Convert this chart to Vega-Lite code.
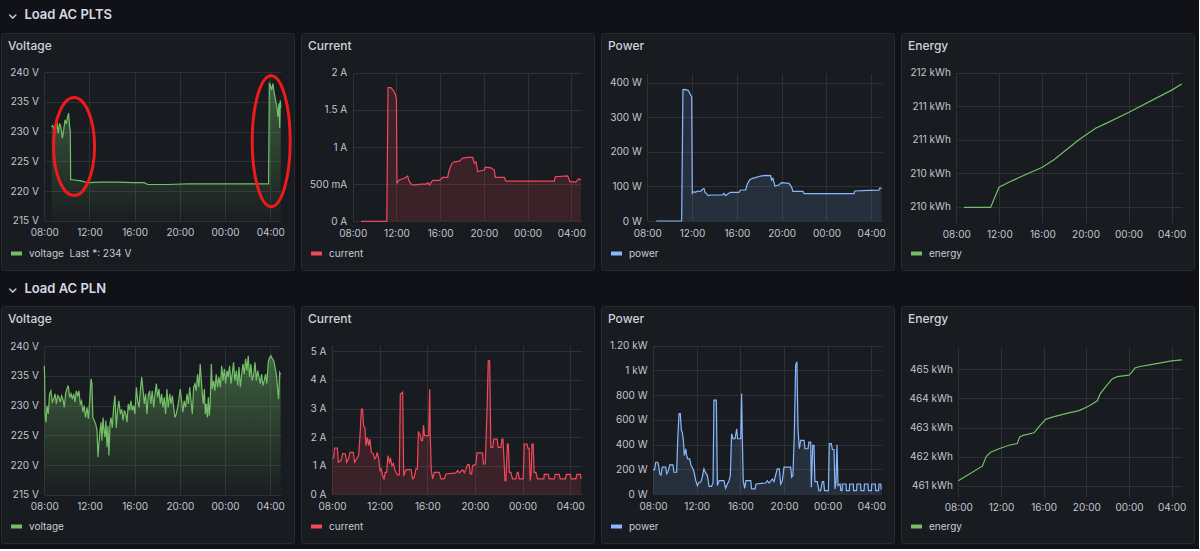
{
  "$schema": "https://vega.github.io/schema/vega-lite/v6.json",
  "background": "#111217",
  "padding": {"left": 0, "top": 8, "right": 4, "bottom": 5},
  "spacing": 11,
  "resolve": {"scale": {"color": "independent", "shape": "independent"}, "legend": {"color": "independent"}},
  "datasets": {
    "pltsVoltage": [
      {"t": "2024-03-11T08:39", "v": 230.8}, {"t": "2024-03-11T08:44", "v": 231.0}, {"t": "2024-03-11T08:57", "v": 230.0},
      {"t": "2024-03-11T09:07", "v": 231.7}, {"t": "2024-03-11T09:14", "v": 229.7}, {"t": "2024-03-11T09:21", "v": 231.4},
      {"t": "2024-03-11T09:28", "v": 230.8}, {"t": "2024-03-11T09:36", "v": 228.9}, {"t": "2024-03-11T09:43", "v": 230.3},
      {"t": "2024-03-11T09:50", "v": 232.0}, {"t": "2024-03-11T09:57", "v": 231.3}, {"t": "2024-03-11T10:04", "v": 232.5},
      {"t": "2024-03-11T10:09", "v": 233.1}, {"t": "2024-03-11T10:15", "v": 230.6}, {"t": "2024-03-11T10:18", "v": 230.3},
      {"t": "2024-03-11T10:20", "v": 221.9}, {"t": "2024-03-11T10:30", "v": 221.9}, {"t": "2024-03-11T11:15", "v": 221.7},
      {"t": "2024-03-11T11:50", "v": 221.4}, {"t": "2024-03-11T13:01", "v": 221.5}, {"t": "2024-03-11T14:29", "v": 221.5},
      {"t": "2024-03-11T15:58", "v": 221.4}, {"t": "2024-03-11T16:51", "v": 221.4}, {"t": "2024-03-11T17:09", "v": 221.1},
      {"t": "2024-03-11T18:55", "v": 221.1}, {"t": "2024-03-11T20:41", "v": 221.2}, {"t": "2024-03-11T22:27", "v": 221.2},
      {"t": "2024-03-12T00:13", "v": 221.2}, {"t": "2024-03-12T02:00", "v": 221.2}, {"t": "2024-03-12T03:46", "v": 221.2},
      {"t": "2024-03-12T03:51", "v": 221.2}, {"t": "2024-03-12T03:55", "v": 238.1}, {"t": "2024-03-12T04:00", "v": 237.9},
      {"t": "2024-03-12T04:07", "v": 237.0}, {"t": "2024-03-12T04:14", "v": 238.1}, {"t": "2024-03-12T04:21", "v": 236.5},
      {"t": "2024-03-12T04:28", "v": 235.3}, {"t": "2024-03-12T04:35", "v": 234.2}, {"t": "2024-03-12T04:41", "v": 232.5},
      {"t": "2024-03-12T04:46", "v": 234.8}, {"t": "2024-03-12T04:50", "v": 230.6}, {"t": "2024-03-12T04:53", "v": 235.3},
      {"t": "2024-03-12T04:56", "v": 234.0}
    ],
    "pltsNotes": [
      {"t": "2024-03-11T10:38", "v": 227.5, "id": "drop"},
      {"t": "2024-03-12T04:05", "v": 228.4, "id": "return"}
    ],
    "pltsCurrent": [
      {"t": "2024-03-11T08:46", "v": 0}, {"t": "2024-03-11T11:07", "v": 0}, {"t": "2024-03-11T11:14", "v": 1.80},
      {"t": "2024-03-11T11:30", "v": 1.80}, {"t": "2024-03-11T11:43", "v": 1.76}, {"t": "2024-03-11T11:54", "v": 1.71},
      {"t": "2024-03-11T12:00", "v": 1.65}, {"t": "2024-03-11T12:03", "v": 0.51}, {"t": "2024-03-11T12:07", "v": 0.53},
      {"t": "2024-03-11T12:16", "v": 0.555}, {"t": "2024-03-11T12:31", "v": 0.57}, {"t": "2024-03-11T12:44", "v": 0.58},
      {"t": "2024-03-11T12:56", "v": 0.60}, {"t": "2024-03-11T13:02", "v": 0.61}, {"t": "2024-03-11T13:07", "v": 0.556},
      {"t": "2024-03-11T13:15", "v": 0.52}, {"t": "2024-03-11T13:26", "v": 0.49}, {"t": "2024-03-11T13:48", "v": 0.49},
      {"t": "2024-03-11T14:15", "v": 0.50}, {"t": "2024-03-11T14:43", "v": 0.50}, {"t": "2024-03-11T14:52", "v": 0.52},
      {"t": "2024-03-11T15:01", "v": 0.49}, {"t": "2024-03-11T15:19", "v": 0.55}, {"t": "2024-03-11T15:56", "v": 0.55},
      {"t": "2024-03-11T16:14", "v": 0.59}, {"t": "2024-03-11T16:41", "v": 0.59}, {"t": "2024-03-11T16:50", "v": 0.69},
      {"t": "2024-03-11T17:05", "v": 0.78}, {"t": "2024-03-11T17:18", "v": 0.80}, {"t": "2024-03-11T17:45", "v": 0.81},
      {"t": "2024-03-11T18:04", "v": 0.85}, {"t": "2024-03-11T18:31", "v": 0.86}, {"t": "2024-03-11T18:59", "v": 0.86},
      {"t": "2024-03-11T19:08", "v": 0.78}, {"t": "2024-03-11T19:17", "v": 0.80}, {"t": "2024-03-11T19:26", "v": 0.67},
      {"t": "2024-03-11T19:44", "v": 0.68}, {"t": "2024-03-11T20:02", "v": 0.69}, {"t": "2024-03-11T20:08", "v": 0.73},
      {"t": "2024-03-11T20:39", "v": 0.72}, {"t": "2024-03-11T20:57", "v": 0.69}, {"t": "2024-03-11T21:03", "v": 0.59},
      {"t": "2024-03-11T21:52", "v": 0.59}, {"t": "2024-03-11T22:01", "v": 0.54}, {"t": "2024-03-12T00:09", "v": 0.54},
      {"t": "2024-03-12T02:27", "v": 0.54}, {"t": "2024-03-12T02:32", "v": 0.60}, {"t": "2024-03-12T03:40", "v": 0.61},
      {"t": "2024-03-12T03:53", "v": 0.53}, {"t": "2024-03-12T04:26", "v": 0.53}, {"t": "2024-03-12T04:40", "v": 0.57},
      {"t": "2024-03-12T04:53", "v": 0.56}
    ],
    "pltsPower": [
      {"t": "2024-03-11T08:48", "v": 0}, {"t": "2024-03-11T11:04", "v": 0}, {"t": "2024-03-11T11:11", "v": 379.8},
      {"t": "2024-03-11T11:22", "v": 380.7}, {"t": "2024-03-11T11:40", "v": 377}, {"t": "2024-03-11T11:52", "v": 364},
      {"t": "2024-03-11T11:58", "v": 359.5}, {"t": "2024-03-11T12:01", "v": 80}, {"t": "2024-03-11T12:10", "v": 84.8},
      {"t": "2024-03-11T12:19", "v": 82.9}, {"t": "2024-03-11T12:28", "v": 86.7}, {"t": "2024-03-11T12:46", "v": 85.8},
      {"t": "2024-03-11T12:55", "v": 91.6}, {"t": "2024-03-11T13:04", "v": 93.5}, {"t": "2024-03-11T13:09", "v": 82.9},
      {"t": "2024-03-11T13:16", "v": 80}, {"t": "2024-03-11T13:27", "v": 73.3}, {"t": "2024-03-11T13:39", "v": 75.2},
      {"t": "2024-03-11T14:06", "v": 75.2}, {"t": "2024-03-11T14:42", "v": 75.2}, {"t": "2024-03-11T14:51", "v": 80},
      {"t": "2024-03-11T14:59", "v": 73.3}, {"t": "2024-03-11T15:17", "v": 80}, {"t": "2024-03-11T15:26", "v": 82.9},
      {"t": "2024-03-11T16:11", "v": 82.9}, {"t": "2024-03-11T16:20", "v": 89.6}, {"t": "2024-03-11T16:47", "v": 89.6},
      {"t": "2024-03-11T16:56", "v": 107}, {"t": "2024-03-11T17:08", "v": 118.5}, {"t": "2024-03-11T17:23", "v": 123.4},
      {"t": "2024-03-11T17:40", "v": 125.3}, {"t": "2024-03-11T18:07", "v": 130}, {"t": "2024-03-11T18:34", "v": 132},
      {"t": "2024-03-11T19:01", "v": 131}, {"t": "2024-03-11T19:06", "v": 118.5}, {"t": "2024-03-11T19:13", "v": 123.4},
      {"t": "2024-03-11T19:24", "v": 101}, {"t": "2024-03-11T19:45", "v": 104}, {"t": "2024-03-11T19:59", "v": 111},
      {"t": "2024-03-11T20:39", "v": 109}, {"t": "2024-03-11T20:53", "v": 99}, {"t": "2024-03-11T21:00", "v": 85.8},
      {"t": "2024-03-11T21:54", "v": 85.8}, {"t": "2024-03-11T22:01", "v": 79}, {"t": "2024-03-12T00:31", "v": 79},
      {"t": "2024-03-12T02:27", "v": 79}, {"t": "2024-03-12T02:32", "v": 86.7}, {"t": "2024-03-12T03:47", "v": 88.7},
      {"t": "2024-03-12T04:41", "v": 89}, {"t": "2024-03-12T04:46", "v": 95.4}, {"t": "2024-03-12T04:55", "v": 93.5}
    ],
    "pltsEnergy": [
      {"t": "2024-03-11T08:43", "v": 209.99}, {"t": "2024-03-11T11:11", "v": 209.99}, {"t": "2024-03-11T11:58", "v": 210.29},
      {"t": "2024-03-11T13:12", "v": 210.39}, {"t": "2024-03-11T15:59", "v": 210.59}, {"t": "2024-03-11T17:04", "v": 210.70},
      {"t": "2024-03-11T19:23", "v": 211.0}, {"t": "2024-03-11T20:56", "v": 211.17}, {"t": "2024-03-11T21:52", "v": 211.24},
      {"t": "2024-03-12T00:02", "v": 211.41}, {"t": "2024-03-12T04:00", "v": 211.74}, {"t": "2024-03-12T04:56", "v": 211.83}
    ],
    "plnVoltage": [
      {"t": "2024-03-11T08:00", "v": 236.7}, {"t": "2024-03-11T08:02", "v": 234.5}, {"t": "2024-03-11T08:04", "v": 228.6},
      {"t": "2024-03-11T08:09", "v": 227.2}, {"t": "2024-03-11T08:14", "v": 230.0}, {"t": "2024-03-11T08:21", "v": 228.6},
      {"t": "2024-03-11T08:28", "v": 232.0}, {"t": "2024-03-11T08:35", "v": 232.5}, {"t": "2024-03-11T08:42", "v": 230.6},
      {"t": "2024-03-11T08:50", "v": 231.1}, {"t": "2024-03-11T08:57", "v": 232.0}, {"t": "2024-03-11T09:04", "v": 230.3},
      {"t": "2024-03-11T09:11", "v": 231.7}, {"t": "2024-03-11T09:18", "v": 231.4}, {"t": "2024-03-11T09:25", "v": 230.6},
      {"t": "2024-03-11T09:32", "v": 231.7}, {"t": "2024-03-11T09:39", "v": 231.1}, {"t": "2024-03-11T09:46", "v": 229.7},
      {"t": "2024-03-11T09:53", "v": 232.0}, {"t": "2024-03-11T10:00", "v": 232.8}, {"t": "2024-03-11T10:07", "v": 233.4},
      {"t": "2024-03-11T10:15", "v": 231.4}, {"t": "2024-03-11T10:22", "v": 232.0}, {"t": "2024-03-11T10:29", "v": 231.1},
      {"t": "2024-03-11T10:36", "v": 232.0}, {"t": "2024-03-11T10:43", "v": 230.6}, {"t": "2024-03-11T10:50", "v": 232.5},
      {"t": "2024-03-11T10:57", "v": 231.7}, {"t": "2024-03-11T11:04", "v": 232.5}, {"t": "2024-03-11T11:11", "v": 230.3},
      {"t": "2024-03-11T11:18", "v": 230.8}, {"t": "2024-03-11T11:25", "v": 228.9}, {"t": "2024-03-11T11:32", "v": 230.0},
      {"t": "2024-03-11T11:39", "v": 228.0}, {"t": "2024-03-11T11:47", "v": 229.7}, {"t": "2024-03-11T11:54", "v": 227.8},
      {"t": "2024-03-11T12:01", "v": 230.8}, {"t": "2024-03-11T12:08", "v": 234.5}, {"t": "2024-03-11T12:13", "v": 233.7},
      {"t": "2024-03-11T12:18", "v": 228.0}, {"t": "2024-03-11T12:25", "v": 227.5}, {"t": "2024-03-11T12:33", "v": 226.9},
      {"t": "2024-03-11T12:40", "v": 225.8}, {"t": "2024-03-11T12:45", "v": 221.3}, {"t": "2024-03-11T12:50", "v": 223.5},
      {"t": "2024-03-11T12:56", "v": 225.8}, {"t": "2024-03-11T13:01", "v": 227.2}, {"t": "2024-03-11T13:06", "v": 224.1},
      {"t": "2024-03-11T13:12", "v": 228.0}, {"t": "2024-03-11T13:17", "v": 225.8}, {"t": "2024-03-11T13:22", "v": 224.7},
      {"t": "2024-03-11T13:27", "v": 227.5}, {"t": "2024-03-11T13:33", "v": 223.0}, {"t": "2024-03-11T13:38", "v": 226.6},
      {"t": "2024-03-11T13:43", "v": 221.6}, {"t": "2024-03-11T13:49", "v": 226.9}, {"t": "2024-03-11T13:54", "v": 228.0},
      {"t": "2024-03-11T14:01", "v": 226.3}, {"t": "2024-03-11T14:08", "v": 229.7}, {"t": "2024-03-11T14:15", "v": 231.7},
      {"t": "2024-03-11T14:22", "v": 226.3}, {"t": "2024-03-11T14:29", "v": 229.2}, {"t": "2024-03-11T14:36", "v": 230.8},
      {"t": "2024-03-11T14:44", "v": 228.6}, {"t": "2024-03-11T14:51", "v": 229.4}, {"t": "2024-03-11T14:58", "v": 227.5},
      {"t": "2024-03-11T15:05", "v": 229.2}, {"t": "2024-03-11T15:12", "v": 228.6}, {"t": "2024-03-11T15:19", "v": 227.2},
      {"t": "2024-03-11T15:26", "v": 230.3}, {"t": "2024-03-11T15:33", "v": 229.2}, {"t": "2024-03-11T15:40", "v": 230.8},
      {"t": "2024-03-11T15:47", "v": 229.2}, {"t": "2024-03-11T15:54", "v": 230.0}, {"t": "2024-03-11T16:01", "v": 228.6},
      {"t": "2024-03-11T16:09", "v": 233.1}, {"t": "2024-03-11T16:16", "v": 230.8}, {"t": "2024-03-11T16:23", "v": 229.7},
      {"t": "2024-03-11T16:30", "v": 232.5}, {"t": "2024-03-11T16:37", "v": 234.8}, {"t": "2024-03-11T16:44", "v": 232.8},
      {"t": "2024-03-11T16:51", "v": 230.3}, {"t": "2024-03-11T16:58", "v": 232.0}, {"t": "2024-03-11T17:05", "v": 228.6},
      {"t": "2024-03-11T17:12", "v": 231.7}, {"t": "2024-03-11T17:19", "v": 232.5}, {"t": "2024-03-11T17:26", "v": 230.3},
      {"t": "2024-03-11T17:33", "v": 232.5}, {"t": "2024-03-11T17:41", "v": 229.7}, {"t": "2024-03-11T17:48", "v": 232.0},
      {"t": "2024-03-11T17:55", "v": 233.7}, {"t": "2024-03-11T18:02", "v": 231.4}, {"t": "2024-03-11T18:09", "v": 232.8},
      {"t": "2024-03-11T18:16", "v": 230.3}, {"t": "2024-03-11T18:23", "v": 232.0}, {"t": "2024-03-11T18:30", "v": 229.7},
      {"t": "2024-03-11T18:37", "v": 231.4}, {"t": "2024-03-11T18:44", "v": 228.6}, {"t": "2024-03-11T18:51", "v": 232.8},
      {"t": "2024-03-11T18:58", "v": 229.7}, {"t": "2024-03-11T19:06", "v": 232.0}, {"t": "2024-03-11T19:13", "v": 230.3},
      {"t": "2024-03-11T19:20", "v": 231.7}, {"t": "2024-03-11T19:27", "v": 229.7}, {"t": "2024-03-11T19:34", "v": 228.0},
      {"t": "2024-03-11T19:41", "v": 228.6}, {"t": "2024-03-11T19:48", "v": 229.7}, {"t": "2024-03-11T19:55", "v": 231.1},
      {"t": "2024-03-11T20:02", "v": 232.8}, {"t": "2024-03-11T20:09", "v": 230.8}, {"t": "2024-03-11T20:16", "v": 228.9},
      {"t": "2024-03-11T20:23", "v": 230.8}, {"t": "2024-03-11T20:30", "v": 229.7}, {"t": "2024-03-11T20:38", "v": 232.0},
      {"t": "2024-03-11T20:45", "v": 230.3}, {"t": "2024-03-11T20:52", "v": 233.1}, {"t": "2024-03-11T20:59", "v": 230.8},
      {"t": "2024-03-11T21:06", "v": 228.6}, {"t": "2024-03-11T21:13", "v": 233.1}, {"t": "2024-03-11T21:20", "v": 233.7},
      {"t": "2024-03-11T21:27", "v": 232.5}, {"t": "2024-03-11T21:34", "v": 235.3}, {"t": "2024-03-11T21:41", "v": 233.1},
      {"t": "2024-03-11T21:48", "v": 237.0}, {"t": "2024-03-11T21:54", "v": 234.2}, {"t": "2024-03-11T21:59", "v": 232.0},
      {"t": "2024-03-11T22:04", "v": 230.3}, {"t": "2024-03-11T22:10", "v": 232.8}, {"t": "2024-03-11T22:15", "v": 228.6},
      {"t": "2024-03-11T22:20", "v": 230.3}, {"t": "2024-03-11T22:26", "v": 228.0}, {"t": "2024-03-11T22:31", "v": 231.4},
      {"t": "2024-03-11T22:36", "v": 228.3}, {"t": "2024-03-11T22:41", "v": 230.3}, {"t": "2024-03-11T22:47", "v": 237.0},
      {"t": "2024-03-11T22:52", "v": 232.8}, {"t": "2024-03-11T22:59", "v": 234.2}, {"t": "2024-03-11T23:06", "v": 232.5},
      {"t": "2024-03-11T23:13", "v": 235.3}, {"t": "2024-03-11T23:20", "v": 233.1}, {"t": "2024-03-11T23:27", "v": 234.8},
      {"t": "2024-03-11T23:35", "v": 233.1}, {"t": "2024-03-11T23:42", "v": 236.7}, {"t": "2024-03-11T23:49", "v": 234.2},
      {"t": "2024-03-11T23:56", "v": 236.2}, {"t": "2024-03-12T00:03", "v": 233.7}, {"t": "2024-03-12T00:10", "v": 235.9},
      {"t": "2024-03-12T00:17", "v": 234.8}, {"t": "2024-03-12T00:24", "v": 236.7}, {"t": "2024-03-12T00:31", "v": 233.7},
      {"t": "2024-03-12T00:38", "v": 235.3}, {"t": "2024-03-12T00:45", "v": 237.3}, {"t": "2024-03-12T00:52", "v": 234.2},
      {"t": "2024-03-12T01:00", "v": 235.9}, {"t": "2024-03-12T01:07", "v": 233.4}, {"t": "2024-03-12T01:14", "v": 236.5},
      {"t": "2024-03-12T01:21", "v": 233.1}, {"t": "2024-03-12T01:28", "v": 235.3}, {"t": "2024-03-12T01:35", "v": 237.0},
      {"t": "2024-03-12T01:42", "v": 235.3}, {"t": "2024-03-12T01:49", "v": 237.9}, {"t": "2024-03-12T01:56", "v": 235.9},
      {"t": "2024-03-12T02:03", "v": 238.4}, {"t": "2024-03-12T02:10", "v": 234.8}, {"t": "2024-03-12T02:17", "v": 237.0},
      {"t": "2024-03-12T02:24", "v": 234.2}, {"t": "2024-03-12T02:32", "v": 235.3}, {"t": "2024-03-12T02:39", "v": 237.3},
      {"t": "2024-03-12T02:46", "v": 234.2}, {"t": "2024-03-12T02:53", "v": 235.9}, {"t": "2024-03-12T03:00", "v": 234.8},
      {"t": "2024-03-12T03:07", "v": 233.7}, {"t": "2024-03-12T03:14", "v": 235.3}, {"t": "2024-03-12T03:21", "v": 233.4},
      {"t": "2024-03-12T03:28", "v": 234.2}, {"t": "2024-03-12T03:35", "v": 235.3}, {"t": "2024-03-12T03:42", "v": 233.7},
      {"t": "2024-03-12T03:49", "v": 237.3}, {"t": "2024-03-12T03:56", "v": 238.1}, {"t": "2024-03-12T04:04", "v": 238.4},
      {"t": "2024-03-12T04:11", "v": 237.9}, {"t": "2024-03-12T04:18", "v": 237.6}, {"t": "2024-03-12T04:25", "v": 236.5},
      {"t": "2024-03-12T04:32", "v": 235.3}, {"t": "2024-03-12T04:39", "v": 232.8}, {"t": "2024-03-12T04:44", "v": 231.1},
      {"t": "2024-03-12T04:50", "v": 235.6}, {"t": "2024-03-12T04:55", "v": 235.3}
    ],
    "plnCurrent": [
      {"t": "2024-03-11T08:00", "v": 1.27}, {"t": "2024-03-11T08:08", "v": 1.27}, {"t": "2024-03-11T08:13", "v": 1.62},
      {"t": "2024-03-11T08:27", "v": 1.62}, {"t": "2024-03-11T08:32", "v": 1.12}, {"t": "2024-03-11T08:45", "v": 1.18},
      {"t": "2024-03-11T08:54", "v": 1.43}, {"t": "2024-03-11T09:07", "v": 1.41}, {"t": "2024-03-11T09:14", "v": 1.12},
      {"t": "2024-03-11T09:24", "v": 1.26}, {"t": "2024-03-11T09:31", "v": 1.47}, {"t": "2024-03-11T09:47", "v": 1.47},
      {"t": "2024-03-11T09:54", "v": 1.12}, {"t": "2024-03-11T10:04", "v": 1.24}, {"t": "2024-03-11T10:14", "v": 1.35},
      {"t": "2024-03-11T10:21", "v": 2.05}, {"t": "2024-03-11T10:28", "v": 2.98}, {"t": "2024-03-11T10:34", "v": 2.98},
      {"t": "2024-03-11T10:39", "v": 2.40}, {"t": "2024-03-11T10:46", "v": 2.31}, {"t": "2024-03-11T10:51", "v": 1.70},
      {"t": "2024-03-11T10:58", "v": 1.99}, {"t": "2024-03-11T11:05", "v": 1.70}, {"t": "2024-03-11T11:11", "v": 1.93},
      {"t": "2024-03-11T11:18", "v": 1.47}, {"t": "2024-03-11T11:28", "v": 1.41}, {"t": "2024-03-11T11:35", "v": 1.24},
      {"t": "2024-03-11T11:41", "v": 1.29}, {"t": "2024-03-11T11:48", "v": 1.47}, {"t": "2024-03-11T11:55", "v": 1.24},
      {"t": "2024-03-11T12:02", "v": 0.83}, {"t": "2024-03-11T12:08", "v": 0.89}, {"t": "2024-03-11T12:15", "v": 0.65},
      {"t": "2024-03-11T12:22", "v": 0.54}, {"t": "2024-03-11T12:28", "v": 0.77}, {"t": "2024-03-11T12:35", "v": 0.77},
      {"t": "2024-03-11T12:42", "v": 1.35}, {"t": "2024-03-11T12:49", "v": 1.12}, {"t": "2024-03-11T12:55", "v": 1.24},
      {"t": "2024-03-11T13:02", "v": 1.00}, {"t": "2024-03-11T13:09", "v": 1.08}, {"t": "2024-03-11T13:15", "v": 0.89},
      {"t": "2024-03-11T13:22", "v": 0.77}, {"t": "2024-03-11T13:29", "v": 0.68}, {"t": "2024-03-11T13:39", "v": 0.68},
      {"t": "2024-03-11T13:44", "v": 3.51}, {"t": "2024-03-11T13:56", "v": 3.57}, {"t": "2024-03-11T14:01", "v": 0.65},
      {"t": "2024-03-11T14:12", "v": 0.86}, {"t": "2024-03-11T14:38", "v": 0.86}, {"t": "2024-03-11T14:46", "v": 0.54},
      {"t": "2024-03-11T14:54", "v": 0.59}, {"t": "2024-03-11T15:03", "v": 0.89}, {"t": "2024-03-11T15:10", "v": 0.89},
      {"t": "2024-03-11T15:15", "v": 2.17}, {"t": "2024-03-11T15:23", "v": 2.11}, {"t": "2024-03-11T15:30", "v": 1.88},
      {"t": "2024-03-11T15:36", "v": 1.88}, {"t": "2024-03-11T15:41", "v": 2.42}, {"t": "2024-03-11T15:46", "v": 2.05},
      {"t": "2024-03-11T16:07", "v": 2.05}, {"t": "2024-03-11T16:12", "v": 3.68}, {"t": "2024-03-11T16:15", "v": 2.05},
      {"t": "2024-03-11T16:20", "v": 0.83}, {"t": "2024-03-11T16:27", "v": 0.54}, {"t": "2024-03-11T16:35", "v": 0.77},
      {"t": "2024-03-11T17:00", "v": 0.77}, {"t": "2024-03-11T17:09", "v": 0.54}, {"t": "2024-03-11T17:25", "v": 0.54},
      {"t": "2024-03-11T17:34", "v": 0.71}, {"t": "2024-03-11T18:24", "v": 0.75}, {"t": "2024-03-11T18:33", "v": 0.83},
      {"t": "2024-03-11T18:41", "v": 0.75}, {"t": "2024-03-11T18:58", "v": 0.86}, {"t": "2024-03-11T19:06", "v": 0.75},
      {"t": "2024-03-11T19:23", "v": 1.04}, {"t": "2024-03-11T19:31", "v": 1.04}, {"t": "2024-03-11T19:36", "v": 0.71},
      {"t": "2024-03-11T19:43", "v": 0.71}, {"t": "2024-03-11T19:48", "v": 1.00}, {"t": "2024-03-11T20:05", "v": 1.06},
      {"t": "2024-03-11T20:10", "v": 1.45}, {"t": "2024-03-11T20:38", "v": 1.45}, {"t": "2024-03-11T20:43", "v": 1.06},
      {"t": "2024-03-11T20:52", "v": 1.06}, {"t": "2024-03-11T20:57", "v": 2.17}, {"t": "2024-03-11T21:02", "v": 3.22},
      {"t": "2024-03-11T21:07", "v": 4.67}, {"t": "2024-03-11T21:14", "v": 4.67}, {"t": "2024-03-11T21:20", "v": 1.64},
      {"t": "2024-03-11T21:29", "v": 1.64}, {"t": "2024-03-11T21:35", "v": 1.93}, {"t": "2024-03-11T21:51", "v": 1.93},
      {"t": "2024-03-11T21:57", "v": 1.64}, {"t": "2024-03-11T22:11", "v": 1.64}, {"t": "2024-03-11T22:16", "v": 1.93},
      {"t": "2024-03-11T22:21", "v": 1.93}, {"t": "2024-03-11T22:26", "v": 1.24}, {"t": "2024-03-11T22:31", "v": 0.48},
      {"t": "2024-03-11T22:36", "v": 0.48}, {"t": "2024-03-11T22:43", "v": 1.76}, {"t": "2024-03-11T22:48", "v": 1.76},
      {"t": "2024-03-11T22:53", "v": 0.77}, {"t": "2024-03-11T23:01", "v": 0.77}, {"t": "2024-03-11T23:09", "v": 0.54},
      {"t": "2024-03-11T23:26", "v": 0.54}, {"t": "2024-03-11T23:33", "v": 0.77}, {"t": "2024-03-11T23:38", "v": 0.77},
      {"t": "2024-03-11T23:43", "v": 0.54}, {"t": "2024-03-12T00:03", "v": 0.54}, {"t": "2024-03-12T00:08", "v": 1.76},
      {"t": "2024-03-12T00:22", "v": 1.76}, {"t": "2024-03-12T00:27", "v": 1.61}, {"t": "2024-03-12T00:33", "v": 1.61},
      {"t": "2024-03-12T00:38", "v": 0.48}, {"t": "2024-03-12T00:43", "v": 0.77}, {"t": "2024-03-12T00:47", "v": 1.76},
      {"t": "2024-03-12T00:53", "v": 1.76}, {"t": "2024-03-12T00:58", "v": 0.77}, {"t": "2024-03-12T01:07", "v": 0.77},
      {"t": "2024-03-12T01:15", "v": 0.54}, {"t": "2024-03-12T01:47", "v": 0.54}, {"t": "2024-03-12T01:49", "v": 0.70},
      {"t": "2024-03-12T02:09", "v": 0.70}, {"t": "2024-03-12T02:14", "v": 0.54}, {"t": "2024-03-12T02:39", "v": 0.54},
      {"t": "2024-03-12T02:44", "v": 0.70}, {"t": "2024-03-12T03:04", "v": 0.70}, {"t": "2024-03-12T03:09", "v": 0.54},
      {"t": "2024-03-12T03:35", "v": 0.54}, {"t": "2024-03-12T03:40", "v": 0.70}, {"t": "2024-03-12T04:00", "v": 0.70},
      {"t": "2024-03-12T04:05", "v": 0.54}, {"t": "2024-03-12T04:28", "v": 0.54}, {"t": "2024-03-12T04:33", "v": 0.70},
      {"t": "2024-03-12T04:50", "v": 0.70}, {"t": "2024-03-12T04:55", "v": 0.54}
    ],
    "plnPower": [
      {"t": "2024-03-11T08:00", "v": 198}, {"t": "2024-03-11T08:09", "v": 198}, {"t": "2024-03-11T08:15", "v": 257},
      {"t": "2024-03-11T08:26", "v": 257}, {"t": "2024-03-11T08:31", "v": 230}, {"t": "2024-03-11T08:37", "v": 163},
      {"t": "2024-03-11T08:44", "v": 154}, {"t": "2024-03-11T08:51", "v": 217}, {"t": "2024-03-11T09:10", "v": 217},
      {"t": "2024-03-11T09:15", "v": 163}, {"t": "2024-03-11T09:22", "v": 176}, {"t": "2024-03-11T09:32", "v": 236},
      {"t": "2024-03-11T09:50", "v": 236}, {"t": "2024-03-11T09:55", "v": 176}, {"t": "2024-03-11T10:10", "v": 176},
      {"t": "2024-03-11T10:16", "v": 447}, {"t": "2024-03-11T10:23", "v": 650}, {"t": "2024-03-11T10:30", "v": 650},
      {"t": "2024-03-11T10:36", "v": 515}, {"t": "2024-03-11T10:41", "v": 501}, {"t": "2024-03-11T10:47", "v": 434},
      {"t": "2024-03-11T10:52", "v": 312}, {"t": "2024-03-11T11:00", "v": 366}, {"t": "2024-03-11T11:05", "v": 312},
      {"t": "2024-03-11T11:11", "v": 285}, {"t": "2024-03-11T11:22", "v": 285}, {"t": "2024-03-11T11:29", "v": 230},
      {"t": "2024-03-11T11:36", "v": 217}, {"t": "2024-03-11T11:45", "v": 182}, {"t": "2024-03-11T11:55", "v": 108},
      {"t": "2024-03-11T12:04", "v": 68}, {"t": "2024-03-11T12:13", "v": 95}, {"t": "2024-03-11T12:22", "v": 95},
      {"t": "2024-03-11T12:31", "v": 136}, {"t": "2024-03-11T12:40", "v": 203}, {"t": "2024-03-11T12:49", "v": 171},
      {"t": "2024-03-11T12:59", "v": 149}, {"t": "2024-03-11T13:08", "v": 62}, {"t": "2024-03-11T13:22", "v": 62},
      {"t": "2024-03-11T13:30", "v": 95}, {"t": "2024-03-11T13:35", "v": 759}, {"t": "2024-03-11T13:48", "v": 759},
      {"t": "2024-03-11T13:54", "v": 68}, {"t": "2024-03-11T14:03", "v": 108}, {"t": "2024-03-11T14:30", "v": 108},
      {"t": "2024-03-11T14:39", "v": 46}, {"t": "2024-03-11T14:49", "v": 81}, {"t": "2024-03-11T14:58", "v": 108},
      {"t": "2024-03-11T15:05", "v": 149}, {"t": "2024-03-11T15:12", "v": 488}, {"t": "2024-03-11T15:20", "v": 447},
      {"t": "2024-03-11T15:31", "v": 447}, {"t": "2024-03-11T15:40", "v": 528}, {"t": "2024-03-11T15:45", "v": 447},
      {"t": "2024-03-11T16:02", "v": 447}, {"t": "2024-03-11T16:07", "v": 813}, {"t": "2024-03-11T16:11", "v": 447},
      {"t": "2024-03-11T16:16", "v": 108}, {"t": "2024-03-11T16:24", "v": 46}, {"t": "2024-03-11T16:31", "v": 108},
      {"t": "2024-03-11T16:57", "v": 108}, {"t": "2024-03-11T17:02", "v": 41}, {"t": "2024-03-11T17:21", "v": 41},
      {"t": "2024-03-11T17:26", "v": 81}, {"t": "2024-03-11T18:19", "v": 89}, {"t": "2024-03-11T18:28", "v": 108},
      {"t": "2024-03-11T18:38", "v": 89}, {"t": "2024-03-11T18:56", "v": 122}, {"t": "2024-03-11T19:05", "v": 100},
      {"t": "2024-03-11T19:23", "v": 203}, {"t": "2024-03-11T19:34", "v": 203}, {"t": "2024-03-11T19:42", "v": 81},
      {"t": "2024-03-11T19:51", "v": 108}, {"t": "2024-03-11T20:00", "v": 217}, {"t": "2024-03-11T20:37", "v": 217},
      {"t": "2024-03-11T20:42", "v": 136}, {"t": "2024-03-11T20:49", "v": 149}, {"t": "2024-03-11T20:57", "v": 501},
      {"t": "2024-03-11T21:04", "v": 1043}, {"t": "2024-03-11T21:11", "v": 1070}, {"t": "2024-03-11T21:17", "v": 528},
      {"t": "2024-03-11T21:24", "v": 366}, {"t": "2024-03-11T21:32", "v": 434}, {"t": "2024-03-11T21:50", "v": 434},
      {"t": "2024-03-11T21:55", "v": 366}, {"t": "2024-03-11T22:12", "v": 366}, {"t": "2024-03-11T22:17", "v": 420},
      {"t": "2024-03-11T22:27", "v": 420}, {"t": "2024-03-11T22:30", "v": 54}, {"t": "2024-03-11T22:38", "v": 393},
      {"t": "2024-03-11T22:45", "v": 393}, {"t": "2024-03-11T22:50", "v": 100}, {"t": "2024-03-11T23:03", "v": 100},
      {"t": "2024-03-11T23:12", "v": 27}, {"t": "2024-03-11T23:21", "v": 27}, {"t": "2024-03-11T23:31", "v": 100},
      {"t": "2024-03-11T23:38", "v": 100}, {"t": "2024-03-11T23:43", "v": 27}, {"t": "2024-03-12T00:04", "v": 27},
      {"t": "2024-03-12T00:09", "v": 407}, {"t": "2024-03-12T00:20", "v": 407}, {"t": "2024-03-12T00:26", "v": 360},
      {"t": "2024-03-12T00:35", "v": 360}, {"t": "2024-03-12T00:40", "v": 41}, {"t": "2024-03-12T00:46", "v": 95},
      {"t": "2024-03-12T00:51", "v": 398}, {"t": "2024-03-12T00:57", "v": 68}, {"t": "2024-03-12T01:08", "v": 81},
      {"t": "2024-03-12T01:13", "v": 27}, {"t": "2024-03-12T01:19", "v": 27}, {"t": "2024-03-12T01:21", "v": 81},
      {"t": "2024-03-12T01:41", "v": 81}, {"t": "2024-03-12T01:43", "v": 27}, {"t": "2024-03-12T01:59", "v": 27},
      {"t": "2024-03-12T02:01", "v": 81}, {"t": "2024-03-12T02:21", "v": 81}, {"t": "2024-03-12T02:23", "v": 27},
      {"t": "2024-03-12T02:39", "v": 27}, {"t": "2024-03-12T02:41", "v": 81}, {"t": "2024-03-12T03:01", "v": 81},
      {"t": "2024-03-12T03:03", "v": 27}, {"t": "2024-03-12T03:20", "v": 27}, {"t": "2024-03-12T03:22", "v": 81},
      {"t": "2024-03-12T03:42", "v": 81}, {"t": "2024-03-12T03:44", "v": 27}, {"t": "2024-03-12T04:00", "v": 27},
      {"t": "2024-03-12T04:02", "v": 81}, {"t": "2024-03-12T04:22", "v": 81}, {"t": "2024-03-12T04:24", "v": 27},
      {"t": "2024-03-12T04:40", "v": 27}, {"t": "2024-03-12T04:42", "v": 81}, {"t": "2024-03-12T04:52", "v": 81},
      {"t": "2024-03-12T04:54", "v": 40}, {"t": "2024-03-12T04:57", "v": 40}
    ],
    "plnEnergy": [
      {"t": "2024-03-11T08:00", "v": 461.17}, {"t": "2024-03-11T10:15", "v": 461.67}, {"t": "2024-03-11T10:38", "v": 462.01},
      {"t": "2024-03-11T11:02", "v": 462.15}, {"t": "2024-03-11T11:49", "v": 462.27}, {"t": "2024-03-11T12:45", "v": 462.39},
      {"t": "2024-03-11T13:32", "v": 462.45}, {"t": "2024-03-11T13:45", "v": 462.68}, {"t": "2024-03-11T14:04", "v": 462.73},
      {"t": "2024-03-11T15:06", "v": 462.82}, {"t": "2024-03-11T15:34", "v": 463.03}, {"t": "2024-03-11T16:11", "v": 463.28},
      {"t": "2024-03-11T16:49", "v": 463.36}, {"t": "2024-03-11T18:04", "v": 463.48}, {"t": "2024-03-11T19:19", "v": 463.58},
      {"t": "2024-03-11T20:15", "v": 463.74}, {"t": "2024-03-11T21:02", "v": 463.92}, {"t": "2024-03-11T21:17", "v": 464.15},
      {"t": "2024-03-11T21:49", "v": 464.41}, {"t": "2024-03-11T22:26", "v": 464.67}, {"t": "2024-03-11T22:54", "v": 464.75},
      {"t": "2024-03-12T00:00", "v": 464.80}, {"t": "2024-03-12T00:15", "v": 464.90}, {"t": "2024-03-12T00:34", "v": 465.05},
      {"t": "2024-03-12T00:56", "v": 465.09}, {"t": "2024-03-12T02:11", "v": 465.17}, {"t": "2024-03-12T04:00", "v": 465.29},
      {"t": "2024-03-12T04:57", "v": 465.33}
    ]
  },
  "vconcat": [
    {
      "title": {"text": "⌄\u00a0\u00a0Load AC PLTS", "fontSize": 13, "fontWeight": 600, "color": "#d8d9e3", "offset": 11, "dx": 7, "frame": "bounds", "anchor": "start"},
      "spacing": 7,
      "bounds": "flush",
      "resolve": {"scale": {"color": "independent", "shape": "independent"}, "legend": {"color": "independent"}},
      "hconcat": [
        {
          "width": 293, "height": 237,
          "title": {"text": "Voltage"},
          "data": {"name": "pltsVoltage"},
          "encoding": {
            "x": {"field": "t", "type": "temporal", "title": null,
              "scale": {"domain": [{"year": 2024, "month": 3, "date": 11, "hours": 8}, {"year": 2024, "month": 3, "date": 12, "hours": 4, "minutes": 57}], "range": [43.3, 280], "nice": false},
              "axis": {"orient": "top", "offset": -187.7, "format": "%H:%M", "values": [{"year": 2024, "month": 3, "date": 11, "hours": 8}, {"year": 2024, "month": 3, "date": 11, "hours": 12}, {"year": 2024, "month": 3, "date": 11, "hours": 16}, {"year": 2024, "month": 3, "date": 11, "hours": 20}, {"year": 2024, "month": 3, "date": 12, "hours": 0}, {"year": 2024, "month": 3, "date": 12, "hours": 4}], "labelBaseline": "top", "labelPadding": -7, "labelFlush": false, "grid": true, "zindex": 0}},
            "y": {"field": "v", "type": "quantitative", "title": null,
              "scale": {"domain": [215, 240], "range": [187.7, 39.3], "nice": false, "zero": false},
              "axis": {"offset": -43.3, "values": [215, 220, 225, 230, 235, 240], "labelExpr": "datum.value + ' V'", "zindex": 0}}
          },
          "layer": [
            {"mark": {"type": "area", "color": {"gradient": "linear", "x1": 0, "y1": 0, "x2": 0, "y2": 1, "stops": [{"offset": 0, "color": "rgba(115,191,105,0.42)"}, {"offset": 1, "color": "rgba(115,191,105,0.02)"}]}},
              "encoding": {"y2": {"datum": 215}}},
            {"mark": {"type": "line", "strokeWidth": 1.2},
              "encoding": {"color": {"datum": "voltage", "scale": {"domain": ["voltage"], "range": ["#73bf69"]}, "legend": {"title": null, "labelExpr": "datum.label + '\u00a0\u00a0Last *: 234 V'"}}}},
            {"data": {"name": "pltsNotes"},
              "mark": {"type": "point", "filled": false, "stroke": "#ee1b1b", "strokeWidth": 3, "size": 10000, "opacity": 1, "clip": false},
              "encoding": {"shape": {"field": "id", "type": "nominal", "legend": null,
                "scale": {"domain": ["drop", "return"], "range": ["M-0.41 0C-0.41 -0.54 -0.226 -0.98 0 -0.98C0.226 -0.98 0.41 -0.54 0.41 0C0.41 0.54 0.226 0.98 0 0.98C-0.226 0.98 -0.41 0.54 -0.41 0Z", "M-0.38 0C-0.38 -0.72 -0.21 -1.31 0 -1.31C0.21 -1.31 0.38 -0.72 0.38 0C0.38 0.72 0.21 1.31 0 1.31C-0.21 1.31 -0.38 0.72 -0.38 0Z"]}}}}
          ]
        },
        {
          "width": 293, "height": 237,
          "title": {"text": "Current"},
          "data": {"name": "pltsCurrent"},
          "encoding": {
            "x": {"field": "t", "type": "temporal", "title": null,
              "scale": {"domain": [{"year": 2024, "month": 3, "date": 11, "hours": 8}, {"year": 2024, "month": 3, "date": 12, "hours": 4, "minutes": 57}], "range": [51.7, 280.7], "nice": false},
              "axis": {"orient": "top", "offset": -188.3, "format": "%H:%M", "values": [{"year": 2024, "month": 3, "date": 11, "hours": 8}, {"year": 2024, "month": 3, "date": 11, "hours": 12}, {"year": 2024, "month": 3, "date": 11, "hours": 16}, {"year": 2024, "month": 3, "date": 11, "hours": 20}, {"year": 2024, "month": 3, "date": 12, "hours": 0}, {"year": 2024, "month": 3, "date": 12, "hours": 4}], "labelBaseline": "top", "labelPadding": -7, "labelFlush": false, "grid": true, "zindex": 0}},
            "y": {"field": "v", "type": "quantitative", "title": null,
              "scale": {"domain": [0, 2], "range": [188.3, 39.7], "nice": false},
              "axis": {"offset": -51.7, "values": [0, 0.5, 1, 1.5, 2], "labelExpr": "datum.value == 0.5 ? '500 mA' : datum.value + ' A'", "zindex": 0}}
          },
          "layer": [
            {"mark": {"type": "area", "fill": "#f2495c", "fillOpacity": 0.16}, "encoding": {"y2": {"datum": 0}}},
            {"mark": {"type": "line", "strokeWidth": 1.2},
              "encoding": {"color": {"datum": "current", "scale": {"domain": ["current"], "range": ["#f2495c"]}, "legend": {"title": null}}}}
          ]
        },
        {
          "width": 293, "height": 237,
          "title": {"text": "Power"},
          "data": {"name": "pltsPower"},
          "encoding": {
            "x": {"field": "t", "type": "temporal", "title": null,
              "scale": {"domain": [{"year": 2024, "month": 3, "date": 11, "hours": 8}, {"year": 2024, "month": 3, "date": 12, "hours": 4, "minutes": 57}], "range": [46.3, 280.9], "nice": false},
              "axis": {"orient": "top", "offset": -188, "format": "%H:%M", "values": [{"year": 2024, "month": 3, "date": 11, "hours": 8}, {"year": 2024, "month": 3, "date": 11, "hours": 12}, {"year": 2024, "month": 3, "date": 11, "hours": 16}, {"year": 2024, "month": 3, "date": 11, "hours": 20}, {"year": 2024, "month": 3, "date": 12, "hours": 0}, {"year": 2024, "month": 3, "date": 12, "hours": 4}], "labelBaseline": "top", "labelPadding": -7, "labelFlush": false, "grid": true, "zindex": 0}},
            "y": {"field": "v", "type": "quantitative", "title": null,
              "scale": {"domain": [0, 427], "range": [188, 40.3], "nice": false},
              "axis": {"offset": -46.3, "values": [0, 100, 200, 300, 400], "labelExpr": "datum.value + ' W'", "zindex": 0}}
          },
          "layer": [
            {"mark": {"type": "area", "fill": "#8ab8ff", "fillOpacity": 0.13}, "encoding": {"y2": {"datum": 0}}},
            {"mark": {"type": "line", "strokeWidth": 1.2},
              "encoding": {"color": {"datum": "power", "scale": {"domain": ["power"], "range": ["#8ab8ff"]}, "legend": {"title": null}}}}
          ]
        },
        {
          "width": 293, "height": 237,
          "title": {"text": "Energy"},
          "data": {"name": "pltsEnergy"},
          "encoding": {
            "x": {"field": "t", "type": "temporal", "title": null,
              "scale": {"domain": [{"year": 2024, "month": 3, "date": 11, "hours": 8}, {"year": 2024, "month": 3, "date": 12, "hours": 4, "minutes": 57}], "range": [55.3, 280.9], "nice": false},
              "axis": {"orient": "top", "offset": -190, "format": "%H:%M", "values": [{"year": 2024, "month": 3, "date": 11, "hours": 8}, {"year": 2024, "month": 3, "date": 11, "hours": 12}, {"year": 2024, "month": 3, "date": 11, "hours": 16}, {"year": 2024, "month": 3, "date": 11, "hours": 20}, {"year": 2024, "month": 3, "date": 12, "hours": 0}, {"year": 2024, "month": 3, "date": 12, "hours": 4}], "labelBaseline": "top", "labelPadding": -6, "labelFlush": false, "grid": true, "zindex": 0}},
            "y": {"field": "v", "type": "quantitative", "title": null,
              "scale": {"domain": [209.757, 212], "range": [190, 39.7], "nice": false, "zero": false},
              "axis": {"offset": -55.3, "values": [210, 210.5, 211, 211.5, 212], "labelExpr": "floor(datum.value) + ' kWh'", "zindex": 0}}
          },
          "layer": [
            {"mark": {"type": "line", "strokeWidth": 1.2},
              "encoding": {"color": {"datum": "energy", "scale": {"domain": ["energy"], "range": ["#73bf69"]}, "legend": {"title": null}}}}
          ]
        }
      ]
    },
    {
      "title": {"text": "⌄\u00a0\u00a0Load AC PLN", "fontSize": 13, "fontWeight": 600, "color": "#d8d9e3", "offset": 10, "dx": 7, "frame": "bounds", "anchor": "start"},
      "spacing": 7,
      "bounds": "flush",
      "resolve": {"scale": {"color": "independent"}, "legend": {"color": "independent"}},
      "hconcat": [
        {
          "width": 293, "height": 237,
          "title": {"text": "Voltage"},
          "data": {"name": "plnVoltage"},
          "encoding": {
            "x": {"field": "t", "type": "temporal", "title": null,
              "scale": {"domain": [{"year": 2024, "month": 3, "date": 11, "hours": 8}, {"year": 2024, "month": 3, "date": 12, "hours": 4, "minutes": 57}], "range": [43.3, 280], "nice": false},
              "axis": {"orient": "top", "offset": -188.7, "format": "%H:%M", "values": [{"year": 2024, "month": 3, "date": 11, "hours": 8}, {"year": 2024, "month": 3, "date": 11, "hours": 12}, {"year": 2024, "month": 3, "date": 11, "hours": 16}, {"year": 2024, "month": 3, "date": 11, "hours": 20}, {"year": 2024, "month": 3, "date": 12, "hours": 0}, {"year": 2024, "month": 3, "date": 12, "hours": 4}], "labelBaseline": "top", "labelPadding": -7, "labelFlush": false, "grid": true, "zindex": 0}},
            "y": {"field": "v", "type": "quantitative", "title": null,
              "scale": {"domain": [215, 240], "range": [188.7, 40.3], "nice": false, "zero": false},
              "axis": {"offset": -43.3, "values": [215, 220, 225, 230, 235, 240], "labelExpr": "datum.value + ' V'", "zindex": 0}}
          },
          "layer": [
            {"mark": {"type": "area", "color": {"gradient": "linear", "x1": 0, "y1": 0, "x2": 0, "y2": 1, "stops": [{"offset": 0, "color": "rgba(115,191,105,0.42)"}, {"offset": 1, "color": "rgba(115,191,105,0.02)"}]}},
              "encoding": {"y2": {"datum": 215}}},
            {"mark": {"type": "line", "strokeWidth": 1.2},
              "encoding": {"color": {"datum": "voltage", "scale": {"domain": ["voltage"], "range": ["#73bf69"]}, "legend": {"title": null}}}}
          ]
        },
        {
          "width": 293, "height": 237,
          "title": {"text": "Current"},
          "data": {"name": "plnCurrent"},
          "encoding": {
            "x": {"field": "t", "type": "temporal", "title": null,
              "scale": {"domain": [{"year": 2024, "month": 3, "date": 11, "hours": 8}, {"year": 2024, "month": 3, "date": 12, "hours": 4, "minutes": 57}], "range": [31, 280.6], "nice": false},
              "axis": {"orient": "top", "offset": -188.3, "format": "%H:%M", "values": [{"year": 2024, "month": 3, "date": 11, "hours": 8}, {"year": 2024, "month": 3, "date": 11, "hours": 12}, {"year": 2024, "month": 3, "date": 11, "hours": 16}, {"year": 2024, "month": 3, "date": 11, "hours": 20}, {"year": 2024, "month": 3, "date": 12, "hours": 0}, {"year": 2024, "month": 3, "date": 12, "hours": 4}], "labelBaseline": "top", "labelPadding": -7, "labelFlush": false, "grid": true, "zindex": 0}},
            "y": {"field": "v", "type": "quantitative", "title": null,
              "scale": {"domain": [0, 5.2], "range": [188.3, 39.7], "nice": false},
              "axis": {"offset": -31, "values": [0, 1, 2, 3, 4, 5], "labelExpr": "datum.value + ' A'", "zindex": 0}}
          },
          "layer": [
            {"mark": {"type": "area", "fill": "#f2495c", "fillOpacity": 0.16}, "encoding": {"y2": {"datum": 0}}},
            {"mark": {"type": "line", "strokeWidth": 1.2},
              "encoding": {"color": {"datum": "current", "scale": {"domain": ["current"], "range": ["#f2495c"]}, "legend": {"title": null}}}}
          ]
        },
        {
          "width": 293, "height": 237,
          "title": {"text": "Power"},
          "data": {"name": "plnPower"},
          "encoding": {
            "x": {"field": "t", "type": "temporal", "title": null,
              "scale": {"domain": [{"year": 2024, "month": 3, "date": 11, "hours": 8}, {"year": 2024, "month": 3, "date": 12, "hours": 4, "minutes": 57}], "range": [52, 280.7], "nice": false},
              "axis": {"orient": "top", "offset": -188, "format": "%H:%M", "values": [{"year": 2024, "month": 3, "date": 11, "hours": 8}, {"year": 2024, "month": 3, "date": 11, "hours": 12}, {"year": 2024, "month": 3, "date": 11, "hours": 16}, {"year": 2024, "month": 3, "date": 11, "hours": 20}, {"year": 2024, "month": 3, "date": 12, "hours": 0}, {"year": 2024, "month": 3, "date": 12, "hours": 4}], "labelBaseline": "top", "labelPadding": -7, "labelFlush": false, "grid": true, "zindex": 0}},
            "y": {"field": "v", "type": "quantitative", "title": null,
              "scale": {"domain": [0, 1200], "range": [188, 39.7], "nice": false},
              "axis": {"offset": -52, "values": [0, 200, 400, 600, 800, 1000, 1200], "labelExpr": "datum.value == 1200 ? '1.20 kW' : datum.value == 1000 ? '1 kW' : datum.value + ' W'", "zindex": 0}}
          },
          "layer": [
            {"mark": {"type": "area", "fill": "#8ab8ff", "fillOpacity": 0.13}, "encoding": {"y2": {"datum": 0}}},
            {"mark": {"type": "line", "strokeWidth": 1.2},
              "encoding": {"color": {"datum": "power", "scale": {"domain": ["power"], "range": ["#8ab8ff"]}, "legend": {"title": null}}}}
          ]
        },
        {
          "width": 293, "height": 237,
          "title": {"text": "Energy"},
          "data": {"name": "plnEnergy"},
          "encoding": {
            "x": {"field": "t", "type": "temporal", "title": null,
              "scale": {"domain": [{"year": 2024, "month": 3, "date": 11, "hours": 8}, {"year": 2024, "month": 3, "date": 12, "hours": 4, "minutes": 57}], "range": [57.3, 280.8], "nice": false},
              "axis": {"orient": "top", "offset": -191.3, "format": "%H:%M", "values": [{"year": 2024, "month": 3, "date": 11, "hours": 8}, {"year": 2024, "month": 3, "date": 11, "hours": 12}, {"year": 2024, "month": 3, "date": 11, "hours": 16}, {"year": 2024, "month": 3, "date": 11, "hours": 20}, {"year": 2024, "month": 3, "date": 12, "hours": 0}, {"year": 2024, "month": 3, "date": 12, "hours": 4}], "labelBaseline": "top", "labelPadding": -5, "labelFlush": false, "grid": true, "zindex": 0}},
            "y": {"field": "v", "type": "quantitative", "title": null,
              "scale": {"domain": [460.6, 465.78], "range": [191.3, 40.7], "nice": false, "zero": false},
              "axis": {"offset": -57.3, "values": [461, 462, 463, 464, 465], "labelExpr": "datum.value + ' kWh'", "zindex": 0}}
          },
          "layer": [
            {"mark": {"type": "line", "strokeWidth": 1.2},
              "encoding": {"color": {"datum": "energy", "scale": {"domain": ["energy"], "range": ["#73bf69"]}, "legend": {"title": null}}}}
          ]
        }
      ]
    }
  ],
  "config": {
    "font": "Inter",
    "view": {"fill": "#181b1f", "stroke": "#272a2f", "strokeWidth": 1, "cornerRadius": 2},
    "axis": {"domain": false, "ticks": false, "labelFont": "Inter", "labelFontSize": 10, "labelColor": "#c4c5cf", "gridColor": "#2d3035", "gridWidth": 1},
    "axisY": {"labelPadding": 6},
    "title": {"font": "Inter", "fontSize": 12, "fontWeight": 500, "color": "#d0d1dc", "anchor": "start", "frame": "group", "offset": -20, "dx": 7},
    "legend": {"orient": "bottom-left", "offset": 8, "padding": 0, "symbolType": "stroke", "symbolStrokeWidth": 4, "symbolSize": 121, "labelFont": "Inter", "labelFontSize": 10, "labelColor": "#c9cad4", "labelOffset": 5}
  }
}
